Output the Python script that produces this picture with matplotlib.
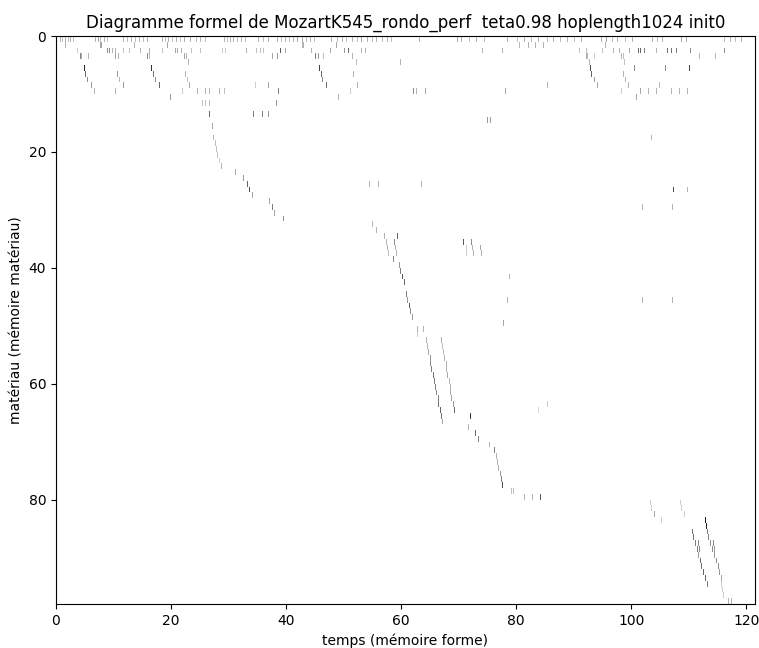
import numpy as np
import matplotlib
matplotlib.use("Agg")
import matplotlib.pyplot as plt

# ---------------- data ----------------
title = "Diagramme formel de MozartK545_rondo_perf  teta0.98 hoplength1024 init0"
xlabel = "temps (mémoire forme)"
ylabel = "matériau (mémoire matériau)"
t_max = 121.5
n_rows = 98

# row 0 : light band of marks
row0_time = [0.7, 1.2, 1.6, 2.1, 2.6, 3.1, 6.8, 7.3, 7.8, 8.4, 8.9, 11.8, 12.4, 13.1,
             13.8, 14.5, 15.2, 15.9, 18.5, 19.0, 19.5, 20.2, 20.9, 21.6, 22.3, 23.3,
             24.4, 25.1, 26.0, 29.3, 29.8, 30.3, 30.8, 31.5, 32.2, 32.9, 35.2, 36.1,
             36.9, 38.5, 39.2, 39.9, 40.6, 41.3, 42.0, 42.7, 43.4, 44.1, 44.8, 47.9,
             48.8, 49.7, 50.5, 51.4, 52.3, 53.1, 54.0, 54.9, 55.7, 56.6, 57.5, 58.2,
             63.2, 69.9, 70.6, 72.0, 73.2, 74.6, 78.6, 80.3, 81.5, 82.7, 84.0, 85.5,
             86.6, 87.8, 89.0, 90.2, 91.4, 94.8, 95.8, 96.7, 97.6, 99.1, 100.2, 103.7,
             104.6, 105.4, 108.7, 109.6, 116.2, 117.2, 118.2, 119.2]
row0_level = [0.3, 0.25, 0.3, 0.25, 0.3, 0.25, 0.3, 0.35, 0.25, 0.3, 0.25, 0.3, 0.25, 0.3,
              0.25, 0.3, 0.25, 0.3, 0.3, 0.25, 0.3, 0.25, 0.3, 0.25, 0.3, 0.3,
              0.25, 0.3, 0.25, 0.3, 0.25, 0.3, 0.3, 0.25, 0.3, 0.25, 0.3, 0.25,
              0.3, 0.3, 0.25, 0.3, 0.25, 0.3, 0.35, 0.3, 0.25, 0.3, 0.25, 0.3,
              0.25, 0.3, 0.25, 0.3, 0.25, 0.35, 0.3, 0.25, 0.3, 0.25, 0.3, 0.25,
              0.3, 0.35, 0.3, 0.25, 0.3, 0.25, 0.3, 0.25, 0.3, 0.25, 0.3, 0.25,
              0.3, 0.25, 0.3, 0.25, 0.3, 0.3, 0.35, 0.25, 0.3, 0.25, 0.3, 0.3,
              0.25, 0.3, 0.35, 0.3, 0.25, 0.3, 0.25, 0.3]

# rows 1-11 : upper motifs
upper_row = ([1] * 13 + [2] * 46 + [3] * 22 + [4] * 5 + [5] * 7 + [6] * 8 + [7] * 7
             + [8] * 12 + [9] * 21 + [10] * 3 + [11] * 4)
upper_time = [
    1.7, 7.7, 7.9, 13.6, 19.3, 42.7, 43.0, 48.6, 80.7, 82.1, 83.4, 84.8, 95.5,
    3.7, 8.9, 9.2, 9.8, 10.3, 11.8, 12.7, 14.6, 16.2, 18.5, 20.7, 21.1, 21.8, 23.5,
    25.1, 28.9, 29.4, 33.1, 34.8, 35.5, 36.1, 39.0, 39.9, 44.3, 47.7, 50.0, 50.7,
    53.0, 53.7, 74.2, 77.7, 91.1, 92.2, 95.0, 97.0, 97.9, 99.8, 101.2, 101.7, 102.4,
    104.4, 106.3, 107.0, 107.8, 110.3, 116.2,
    4.2, 4.5, 5.7, 10.3, 10.8, 15.9, 16.2, 22.3, 22.6, 37.5, 38.5, 45.1, 45.5, 46.5,
    51.4, 92.2, 92.5, 93.6, 98.4, 98.7, 111.8, 114.6,
    23.0, 52.1, 59.8, 92.7, 98.8,
    4.9, 16.6, 45.8, 92.9, 100.5, 105.9, 110.1,
    5.1, 10.6, 16.9, 22.5, 46.0, 51.6, 93.2, 98.6,
    5.4, 11.0, 17.2, 22.8, 46.3, 93.6, 99.0,
    6.1, 11.7, 17.9, 23.2, 34.7, 36.8, 46.9, 52.3, 85.5, 94.1, 99.5, 104.9,
    6.6, 10.3, 22.0, 24.6, 26.0, 26.7, 28.4, 29.3, 38.7, 51.2, 62.2, 62.7, 64.3,
    78.2, 98.3, 101.7, 103.1, 104.4, 107.0, 108.4, 109.8,
    19.9, 49.1, 100.9,
    25.4, 26.0, 26.7, 38.3]
upper_level = [
    0.3, 0.35, 0.35, 0.3, 0.35, 0.3, 0.3, 0.35, 0.3, 0.3, 0.3, 0.3, 0.3,
    0.2, 0.45, 0.45, 0.3, 0.3, 0.25, 0.25, 0.3, 0.3, 0.25, 0.35, 0.35, 0.3, 0.25,
    0.25, 0.2, 0.2, 0.3, 0.25, 0.25, 0.25, 0.65, 0.35, 0.3, 0.35, 0.4, 0.6,
    0.3, 0.3, 0.3, 0.3, 0.25, 0.25, 0.25, 0.3, 0.3, 0.35, 0.6, 0.6, 0.5,
    0.3, 0.55, 0.55, 0.5, 0.45, 0.45,
    0.45, 0.35, 0.3, 0.35, 0.3, 0.45, 0.3, 0.35, 0.3, 0.35, 0.4, 0.5, 0.4, 0.25,
    0.3, 0.3, 0.3, 0.2, 0.3, 0.25, 0.3, 0.3,
    0.3, 0.25, 0.3, 0.3, 0.25,
    0.85, 0.8, 0.75, 0.7, 0.45, 0.45, 0.7,
    0.6, 0.4, 0.55, 0.3, 0.6, 0.3, 0.6, 0.3,
    0.45, 0.3, 0.45, 0.25, 0.45, 0.4, 0.3,
    0.4, 0.4, 0.6, 0.35, 0.2, 0.35, 0.55, 0.3, 0.3, 0.35, 0.3, 0.25,
    0.3, 0.3, 0.2, 0.3, 0.3, 0.3, 0.3, 0.25, 0.5, 0.2, 0.45, 0.3, 0.35,
    0.35, 0.2, 0.35, 0.3, 0.3, 0.3, 0.3, 0.3,
    0.4, 0.3, 0.35,
    0.25, 0.25, 0.25, 0.4]

# rows 12-97 : descending material  (row, time, level)
lower_marks = [
    (13, 26.7, 0.6), (13, 34.3, 0.5), (13, 35.9, 0.5), (13, 36.9, 0.4),
    (14, 75.1, 0.4), (14, 75.6, 0.4), (15, 27.2, 0.35), (17, 27.4, 0.3),
    (17, 103.5, 0.3), (18, 27.7, 0.25), (19, 27.9, 0.25), (20, 28.0, 0.25),
    (21, 28.4, 0.2), (22, 28.7, 0.3), (23, 31.2, 0.35), (24, 32.6, 0.4),
    (25, 33.3, 0.6), (25, 54.4, 0.3), (25, 55.9, 0.3), (25, 63.6, 0.3),
    (26, 33.6, 0.7), (26, 107.3, 0.7), (26, 109.8, 0.3), (27, 34.1, 0.35),
    (28, 37.1, 0.35), (29, 37.6, 0.5), (29, 101.9, 0.3), (29, 107.1, 0.3),
    (30, 38.0, 0.35), (31, 39.5, 0.45), (32, 54.9, 0.3), (33, 55.7, 0.3),
    (34, 57.1, 0.3), (34, 59.2, 0.6), (35, 57.3, 0.3), (35, 58.7, 0.45),
    (35, 70.9, 0.65), (35, 72.3, 0.45), (36, 57.5, 0.3), (36, 58.9, 0.3),
    (36, 71.4, 0.2), (36, 72.5, 0.3), (36, 73.9, 0.35), (37, 57.7, 0.25),
    (37, 59.1, 0.3), (37, 71.4, 0.2), (37, 72.6, 0.3), (37, 74.0, 0.3),
    (38, 58.5, 0.45), (39, 59.6, 0.4), (40, 59.8, 0.5), (41, 60.1, 0.65),
    (41, 78.9, 0.3), (42, 60.5, 0.6), (43, 60.6, 0.5), (44, 61.0, 0.5),
    (45, 61.1, 0.4), (45, 78.6, 0.3), (45, 101.9, 0.3), (45, 107.1, 0.3),
    (46, 61.5, 0.65), (47, 61.7, 0.45), (48, 62.0, 0.4), (49, 77.9, 0.35),
    (50, 62.9, 0.3), (50, 63.9, 0.3), (51, 62.9, 0.2),
    (52, 64.5, 0.3), (53, 64.6, 0.3), (54, 64.8, 0.35), (55, 65.1, 0.4),
    (56, 65.2, 0.45), (57, 65.4, 0.5), (58, 65.7, 0.55), (59, 65.9, 0.5),
    (60, 66.0, 0.5), (61, 66.3, 0.45), (62, 66.5, 0.5), (63, 66.6, 0.55),
    (64, 66.9, 0.6), (65, 67.1, 0.55), (66, 67.2, 0.35),
    (52, 67.1, 0.3), (53, 67.2, 0.25), (54, 67.4, 0.25), (55, 67.6, 0.3),
    (56, 67.9, 0.3), (57, 68.0, 0.3), (58, 68.2, 0.35), (59, 68.4, 0.3),
    (60, 68.6, 0.3), (61, 68.7, 0.35), (62, 68.9, 0.35), (63, 69.1, 0.4),
    (64, 69.3, 0.6),
    (63, 85.4, 0.2), (64, 84.0, 0.15), (65, 72.1, 0.75), (67, 71.8, 0.3),
    (68, 73.0, 0.6), (69, 73.5, 0.5), (70, 75.4, 0.3),
    (71, 76.3, 0.5), (72, 76.6, 0.3), (73, 76.8, 0.3), (74, 77.0, 0.3),
    (75, 77.3, 0.4), (76, 77.5, 0.5), (77, 77.7, 0.7),
    (78, 79.3, 0.25), (78, 79.6, 0.25), (79, 81.5, 0.3), (79, 82.9, 0.3),
    (79, 84.3, 0.65),
    (80, 103.3, 0.2), (80, 108.5, 0.2), (81, 103.5, 0.2), (81, 108.7, 0.2),
    (82, 104.0, 0.35), (82, 109.2, 0.2), (83, 105.2, 0.2), (83, 112.9, 0.9),
    (84, 113.1, 0.85),
    (85, 110.6, 0.55), (86, 110.9, 0.55), (87, 111.1, 0.5), (87, 111.7, 0.45),
    (88, 111.5, 0.5), (88, 111.8, 0.45), (89, 111.7, 0.4), (90, 112.0, 0.55),
    (91, 112.3, 0.55), (92, 112.5, 0.6), (93, 112.9, 0.6), (94, 113.2, 0.5),
    (85, 113.3, 0.5), (86, 113.4, 0.5), (87, 113.8, 0.45), (87, 114.3, 0.45),
    (88, 114.1, 0.45), (88, 114.4, 0.4), (89, 114.5, 0.4), (90, 114.8, 0.45),
    (91, 115.1, 0.45), (92, 115.3, 0.4), (93, 115.7, 0.35),
    (94, 115.7, 0.2), (95, 115.9, 0.2), (96, 116.0, 0.2), (97, 116.9, 0.3),
    (97, 117.4, 0.3),
]
lower_row = [m[0] for m in lower_marks]
lower_time = [m[1] for m in lower_marks]
lower_level = [m[2] for m in lower_marks]

# ---------------- build the matrix ----------------
n_cols = 700
mat = np.zeros((n_rows, n_cols))
rows_all = [0] * len(row0_time) + upper_row + lower_row
times_all = row0_time + upper_time + lower_time
levels_all = row0_level + upper_level + lower_level
for r, t, v in zip(rows_all, times_all, levels_all):
    c = int(t / t_max * n_cols)
    c = min(max(c, 0), n_cols - 1)
    mat[r, c] = max(mat[r, c], v)

# ---------------- figure ----------------
fig = plt.figure(figsize=(7.59, 6.48), dpi=100)
ax = fig.add_axes([56 / 759, 44 / 648, 699 / 759, 568 / 648])
ax.imshow(mat, cmap="gray_r", vmin=0, vmax=1, aspect="auto",
          extent=[0, t_max, n_rows, 0], interpolation="nearest")
ax.set_title(title, fontsize=12)
ax.set_xlabel(xlabel)
ax.set_ylabel(ylabel)
ax.set_xticks([0, 20, 40, 60, 80, 100, 120])
ax.set_yticks([0, 20, 40, 60, 80])
fig.savefig("out.png", dpi=100)
